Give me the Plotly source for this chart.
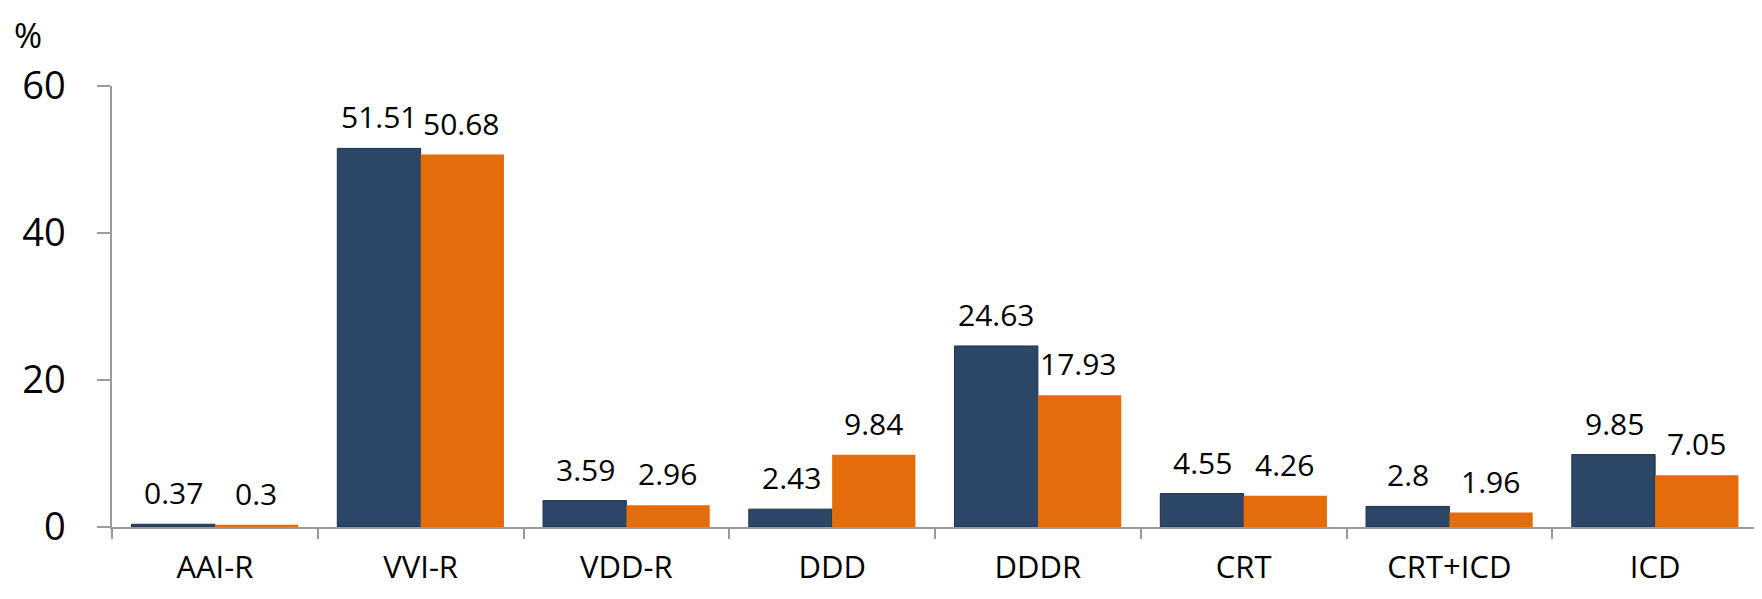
import plotly.graph_objects as go

categories = ["AAI-R", "VVI-R", "VDD-R", "DDD", "DDDR", "CRT", "CRT+ICD", "ICD"]
series_a = [0.37, 51.51, 3.59, 2.43, 24.63, 4.55, 2.8, 9.85]
series_b = [0.3, 50.68, 2.96, 9.84, 17.93, 4.26, 1.96, 7.05]
y_ticks = [0, 20, 40, 60]

BLUE = "#2C4667"
ORANGE = "#E46C0A"
FONT = "Open Sans"

fig = go.Figure()
fig.add_trace(go.Bar(x=categories, y=series_a, name="A",
                     marker=dict(color=BLUE, line=dict(color="#1C304C", width=1))))
fig.add_trace(go.Bar(x=categories, y=series_b, name="B",
                     marker=dict(color=ORANGE, line=dict(width=0))))

annotations = []
for cat, va, vb in zip(categories, series_a, series_b):
    annotations.append(dict(x=cat, y=va, xref="x", yref="y", text=str(va), showarrow=False,
                            xshift=-41, yshift=9, yanchor="bottom",
                            font=dict(family=FONT, size=30, color="#000")))
    annotations.append(dict(x=cat, y=vb, xref="x", yref="y", text=str(vb), showarrow=False,
                            xshift=41, yshift=9, yanchor="bottom",
                            font=dict(family=FONT, size=30, color="#000")))
annotations.append(dict(x=-0.051, y=1.116, xref="paper", yref="paper", text="%", showarrow=False,
                        xanchor="center", yanchor="middle",
                        font=dict(family=FONT, size=34, color="#000")))

fig.update_layout(
    width=1754, height=591,
    margin=dict(l=104, r=4, t=78, b=72),
    plot_bgcolor="white", paper_bgcolor="white",
    barmode="group", bargap=0.19, bargroupgap=0,
    showlegend=False,
    annotations=annotations,
    font=dict(family=FONT, color="#000"),
)
fig.update_xaxes(
    showline=True, linecolor="#9A9A9A", linewidth=1.5,
    ticks="outside", tickson="boundaries", ticklen=10, tickcolor="#9A9A9A", tickwidth=1.5,
    tickfont=dict(family=FONT, size=31, color="#000"),
    ticklabelstandoff=12,
    showgrid=False,
)
fig.update_yaxes(
    range=[0, 60], tickvals=y_ticks,
    showline=True, linecolor="#9A9A9A", linewidth=1.5,
    ticks="outside", ticklen=13, tickcolor="#9A9A9A", tickwidth=1.5,
    tickfont=dict(family=FONT, size=38, color="#000"),
    ticklabelstandoff=24,
    showgrid=False, zeroline=False,
)

fig.write_html("out.html")
